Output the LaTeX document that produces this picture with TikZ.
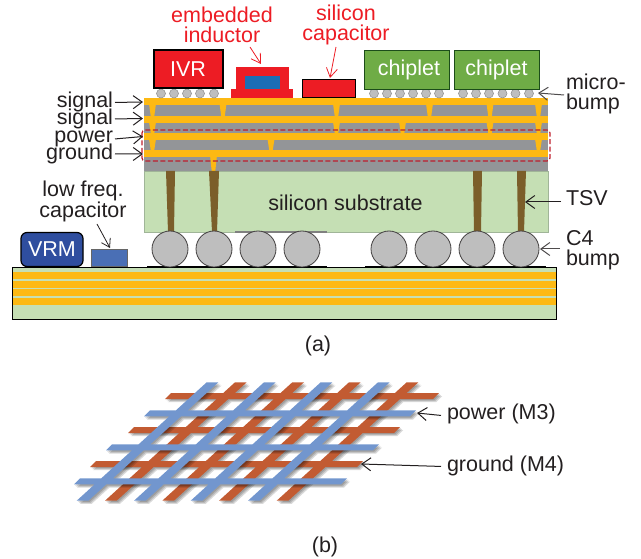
\documentclass[tikz,border=0pt]{standalone}
\usepackage{fontspec}
\setmainfont{Liberation Sans}
\usetikzlibrary{arrows.meta}
\definecolor{gold}{HTML}{FDB913}
\definecolor{layergrey}{HTML}{939598}
\definecolor{subgreen}{HTML}{C5DFB4}
\definecolor{subedge}{HTML}{A0B598}
\definecolor{ink}{HTML}{231F20}
\definecolor{chipred}{HTML}{ED1C24}
\definecolor{chipgreen}{HTML}{6FAC46}
\definecolor{tsvbrown}{HTML}{7B5E2A}
\definecolor{bumpgrey}{HTML}{BEBEBE}
\definecolor{gridblue}{HTML}{7296CE}
\definecolor{gridorange}{HTML}{C25B32}
\definecolor{dashred}{HTML}{BE1E2D}
\definecolor{corebl}{HTML}{1B6DB5}
\definecolor{vrmbl}{HTML}{2F4E9F}
\definecolor{capbl}{HTML}{4A6FB5}
\tikzset{
  x=1pt,y=-1pt,
  lbl/.style={inner sep=0pt,outer sep=0pt,text=ink,font=\fontsize{21.5}{19.6}\selectfont},
  redlbl/.style={lbl,text=chipred,align=center},
  chipbox/.style={draw,inner sep=0pt,outer sep=0pt,text=white,font=\fontsize{21.5}{21.5}\selectfont},
  arr/.style={draw=ink,line width=1pt,-{Straight Barb[length=9pt,width=13pt]}},
  redarr/.style={draw=chipred,line width=.8pt,-{Straight Barb[length=9pt,width=11pt]}},
  microb/.style={circle,draw=black!45,fill=bumpgrey,line width=.5pt,minimum size=9pt,inner sep=0pt},
  cfour/.style={circle,draw=ink!85,fill=bumpgrey,line width=.8pt,minimum size=36pt,inner sep=0pt},
  shad/.style={fill=black,opacity=.15},
}
\newcommand{\via}[3]{\fill[gold] (#1-3.3,#2) -- (#1+3.3,#2) -- (#1+1.8,#3) -- (#1-1.8,#3) -- cycle;}
\newcommand{\tsvshape}[4]{\fill[tsvbrown] (#1,171) -- (#2,171) -- (#4,232) -- (#3,232) -- cycle;}
\newcommand{\hbarshape}[3]{(#1+3,#2-3) -- (#3+3,#2-3) -- (#3-3,#2+3) -- (#1-3,#2+3) -- cycle}
\newcommand{\dbarshape}[1]{(#1+130,382.3) -- (#1+141.7,382.3) -- (#1+11.7,500.7) -- (#1,500.7) -- cycle}
\newcommand{\orangeshape}{\hbarshape{168}{396}{436} \hbarshape{131}{430}{397} \hbarshape{93}{464}{360} \dbarshape{105} \dbarshape{162.3} \dbarshape{219} \dbarshape{276.7}}
\newcommand{\blueshape}{\hbarshape{147}{413.3}{413} \hbarshape{109}{447.3}{376} \hbarshape{77}{481.3}{344} \dbarshape{76.7} \dbarshape{134} \dbarshape{190.7} \dbarshape{248}}
\begin{document}
\begin{tikzpicture}
\useasboundingbox (0,0) rectangle (641,559);
% board
\fill[subgreen] (12.5,267) rectangle (556,319);
\foreach \a/\b in {272/279,281/288,289/296,298/305}{\fill[gold] (13,\a) rectangle (556,\b);}
\draw[black,line width=.8pt] (12.5,267) rectangle (556,319);
\draw[black,line width=1.5pt] (147,267) -- (327,267) (365,267) -- (546,267);
% substrate
\draw[subedge,fill=subgreen,line width=.8pt] (144,171) rectangle (548,232);
\draw[black!50,line width=1.2pt] (235,232) -- (327,232);
% metal stack
\fill[layergrey] (144,98) rectangle (548,171);
\foreach \a/\b in {98/105,116/123,133/140,150/157}{\fill[gold] (144,\a) rectangle (548,\b);}
\foreach \c in {152.5,223,336.5,429.5,490,538.5}{\via{\c}{105}{116}}
\foreach \c in {152.5,336.5,402.5,490,538.5}{\via{\c}{123}{133}}
\foreach \c in {152.5,271,538.5}{\via{\c}{140}{150}}
\via{213.5}{157}{171}
% TSVs
\tsvshape{166}{175}{168}{174}
\tsvshape{209}{219}{212}{217}
\tsvshape{473}{482}{474}{481}
\tsvshape{517}{526}{518}{524}
% C4 bumps
\foreach \c/\n in {170/1,214/2,258/3,302/4,389/5,433/6,477/7,521/8}{\node[cfour] (c\n) at (\c,249) {};}
% micro bumps
\foreach \c/\n in {161/1,174/2,187/3,200/4,214/5}{\node[microb] (ma\n) at (\c,93.5) {};}
\foreach \c/\n in {374/1,387/2,400/3,413/4,426/5,439/6}{\node[microb] (mb\n) at (\c,93.5) {};}
\foreach \c/\n in {463/1,476/2,489/3,502.5/4,515.5/5,529/6}{\node[microb] (mc\n) at (\c,93.5) {};}
% chips
\node[chipbox,draw=black,fill=chipred,line width=2pt,minimum width=69pt,minimum height=38pt] (ivr) at (188,69.5) {\raisebox{1pt}{IVR}};
\node[chipbox,draw=ink!80!green,fill=chipgreen,line width=.9pt,minimum width=85pt,minimum height=39pt] (chipa) at (406.5,69.5) {\hspace*{5pt}\raisebox{-1pt}{chiplet}};
\node[chipbox,draw=ink!80!green,fill=chipgreen,line width=.9pt,minimum width=85pt,minimum height=39pt] (chipb) at (496.5,69.5) {\raisebox{-1pt}{chiplet}};
\node[chipbox,draw=none,fill=chipred,minimum width=53pt,minimum height=22pt] (indtop) at (262.5,78) {};
\node[chipbox,draw=none,fill=chipred,minimum width=62pt,minimum height=9pt] (indbase) at (262,93.5) {};
\node[chipbox,draw=none,fill=corebl,minimum width=35pt,minimum height=13pt] (indcore) at (262.5,82.5) {};
\node[chipbox,draw=black,fill=chipred,line width=1pt,minimum width=53pt,minimum height=18pt] (sicap) at (328.5,89) {};
\node[chipbox,draw=black,fill=vrmbl,line width=1.2pt,rounded corners=6pt,minimum width=62pt,minimum height=34pt] (vrm) at (52,249.5) {VRM};
\node[chipbox,draw=black!60,fill=capbl,line width=.8pt,minimum width=36pt,minimum height=17pt] (lfcap) at (109,257.5) {};
% dashed outline
\draw[dashred,line width=1.2pt,dash pattern=on 5pt off 2.5pt,rounded corners=3pt] (142,130) rectangle (550,161);
% labels
\node[redlbl] (lemb) at (222,25) {embedded\\inductor};
\node[redlbl] (lsil) at (346,25) {silicon\\capacitor};
\node[lbl,anchor=base east] (lsa) at (113,108) {signal};
\node[lbl,anchor=base east] (lsb) at (113,124.5) {signal};
\node[lbl,anchor=base east] (lpw) at (113,142.5) {power};
\node[lbl,anchor=base east] (lgn) at (113,159.5) {ground};
\node[lbl,align=left,anchor=west] (lmicro) at (566,94) {micro-\\bump};
\node[lbl,anchor=base west] (ltsv) at (566,206) {TSV};
\node[lbl,align=left,anchor=west] (lcf) at (566,250) {C4\\bump};
\node[lbl,align=center] (llow) at (83,201.5) {low freq.\\capacitor};
\node[lbl,anchor=base] (lsub) at (345.5,211) {silicon substrate};
\node[lbl,anchor=base] (la) at (318,352) {(a)};
\node[lbl,anchor=base] (lb) at (325,552) {(b)};
% connector ends
\coordinate (tsa) at (143,102);
\coordinate (tsb) at (143,118.5);
\coordinate (tpw) at (143,136.5);
\coordinate (tgn) at (143,154);
\coordinate (tmb) at (538,93);
\coordinate (ttsv) at (525,202);
\coordinate (tcf) at (540,249);
\coordinate (tlow) at (110,248);
\coordinate (tind) at (261,64);
\coordinate (tsic) at (330,78);
\coordinate (stsv) at (561,202);
\coordinate (scf) at (560,249);
\coordinate (slow) at (97,224);
\coordinate (sind) at (250,47);
\coordinate (ssic) at (336,47);
% connectors
\draw[arr] ([shift={(2,0)}]lsa.east) -- (tsa);
\draw[arr] ([shift={(2,0)}]lsb.east) -- (tsb);
\draw[arr] ([shift={(2,0)}]lpw.east) -- (tpw);
\draw[arr] ([shift={(2,0)}]lgn.east) -- (tgn);
\draw[arr,draw=ink!80] ([xshift=-2pt,yshift=-1pt]lmicro.west) -- (tmb);
\draw[arr] (stsv) -- (ttsv);
\draw[arr,draw=ink!80] (scf) -- (tcf);
\draw[redarr] (sind) -- (tind);
\draw[redarr] (ssic) -- (tsic);
\draw[arr,line width=.8pt,-{Straight Barb[length=8pt,width=10pt]}] (slow) -- (tlow);
% grid of part (b)
\foreach \s in {1.2,2.2,3.2}{\fill[shad,shift={(\s,\s)}] \orangeshape;}
\fill[gridorange] \orangeshape;
\foreach \s in {1.2,2.2,3.2}{\fill[shad,shift={(\s,\s)}] \blueshape;}
\fill[gridblue] \blueshape;
\node[lbl,anchor=base west] (lpm) at (447,420) {power (M3)};
\node[lbl,anchor=base west] (lgm) at (447,471) {ground (M4)};
\coordinate (tpm) at (417,413);
\coordinate (tgm) at (361,464);
\draw[arr] ([xshift=-6pt,yshift=-1pt]lpm.west) -- (tpm);
\draw[arr] ([xshift=-6pt,yshift=-1pt]lgm.west) -- (tgm);
\end{tikzpicture}
\end{document}
